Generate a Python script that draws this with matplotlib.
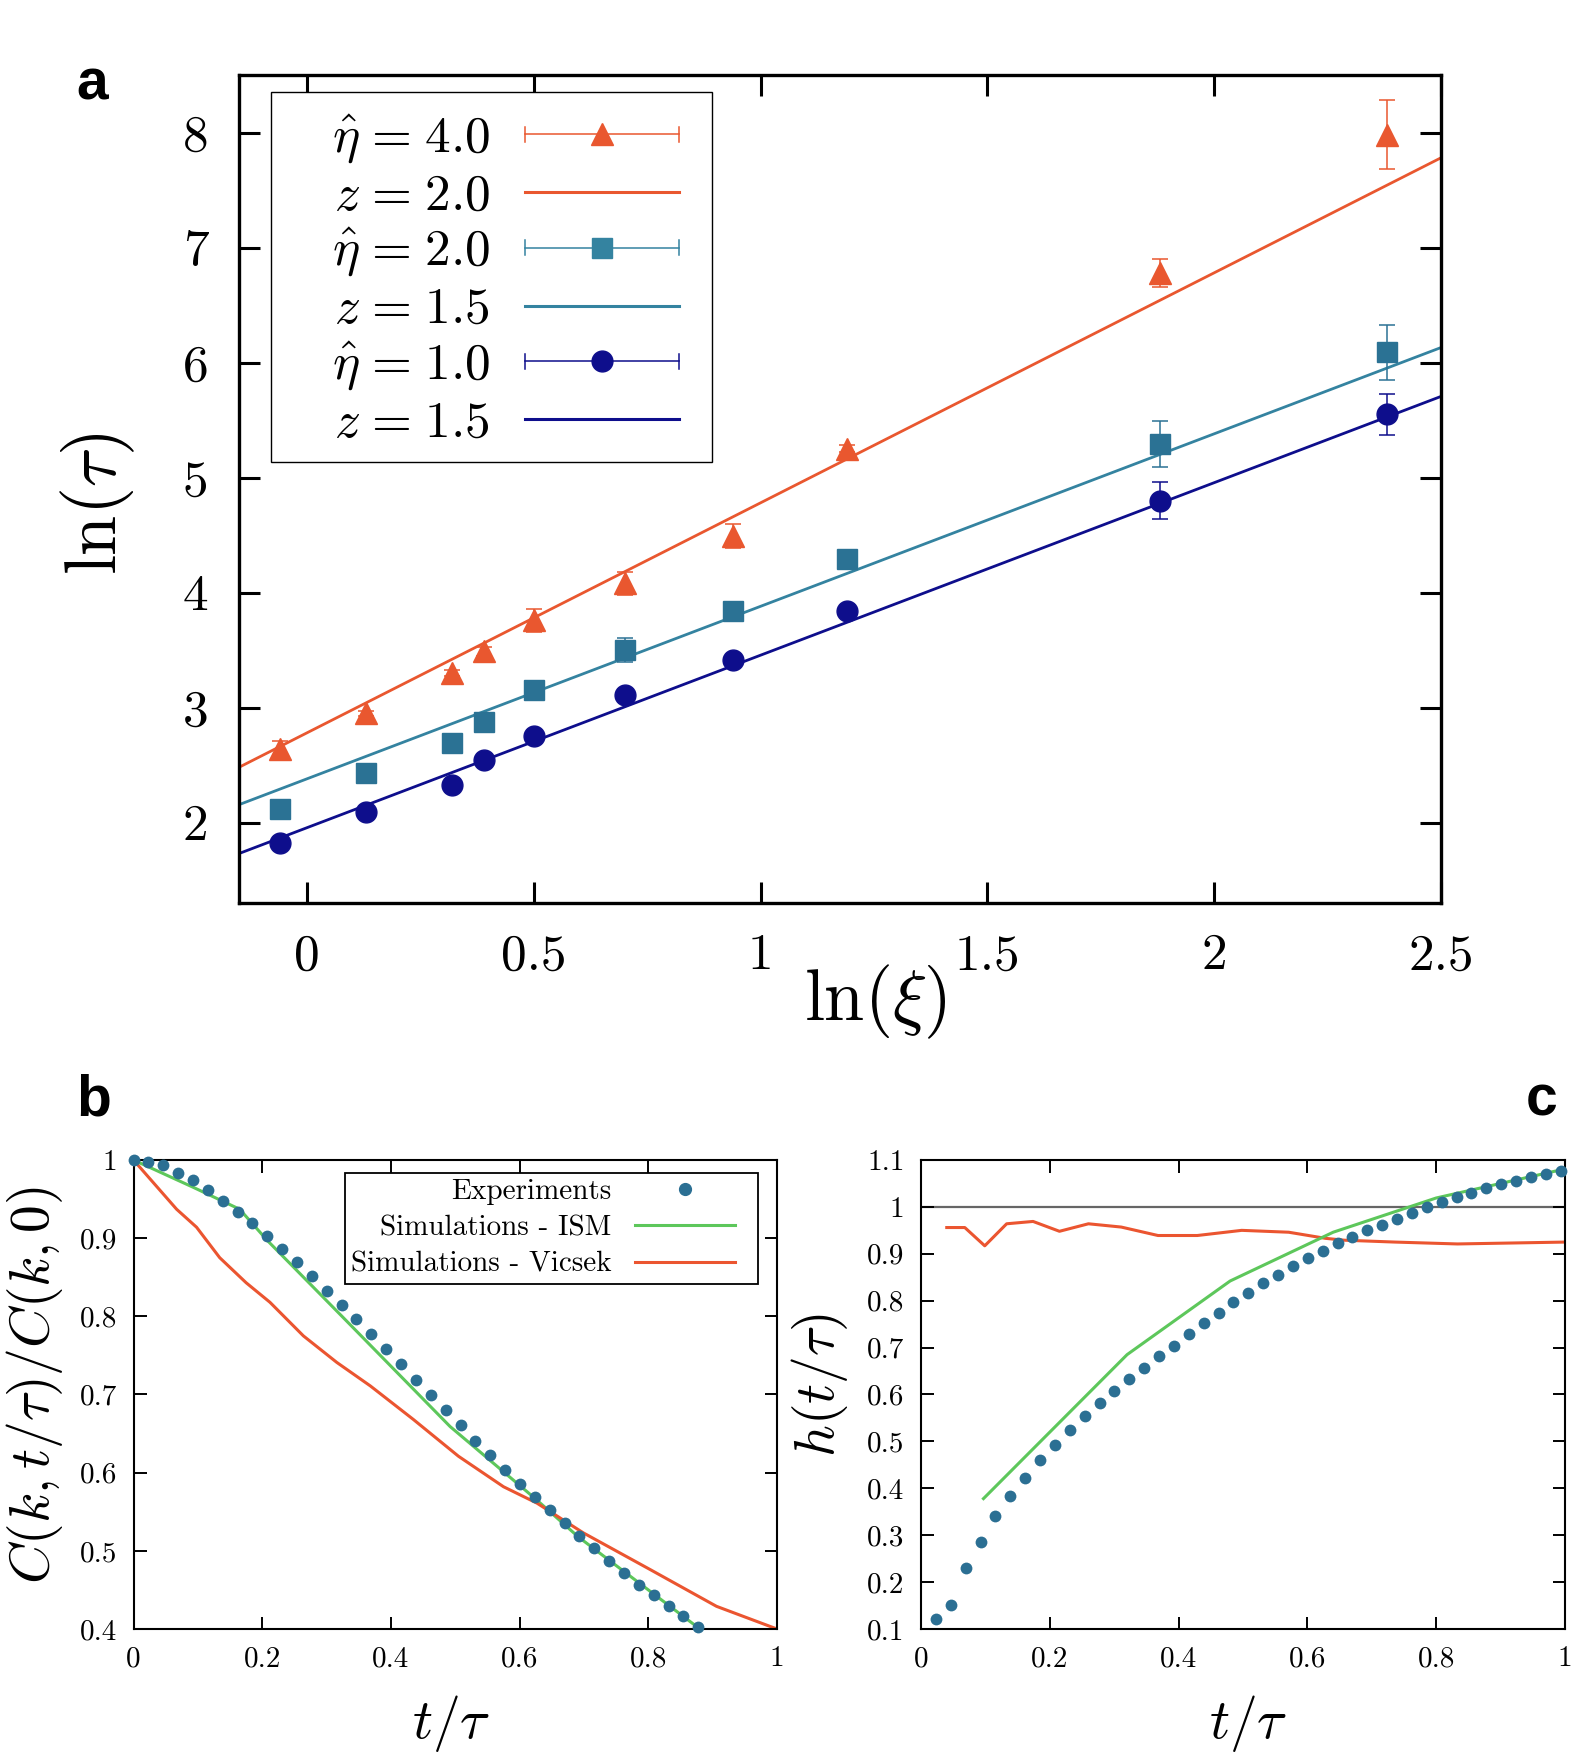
import matplotlib
matplotlib.use('Agg')
import matplotlib.pyplot as plt
from matplotlib.lines import Line2D
from matplotlib.legend_handler import HandlerBase
from matplotlib.ticker import MultipleLocator, FuncFormatter

plt.rcParams['mathtext.fontset'] = 'cm'
plt.rcParams['font.family'] = ['cmr10', 'DejaVu Sans']
plt.rcParams['axes.formatter.use_mathtext'] = True
plt.rcParams['axes.unicode_minus'] = False

# ---------------- Panel a data ----------------
ln_xi = [-0.06, 0.13, 0.32, 0.39, 0.50, 0.70, 0.94, 1.19, 1.88, 2.38]
tau_eta4 = [2.64, 2.95, 3.30, 3.49, 3.76, 4.08, 4.49, 5.25, 6.78, 7.98]
err_eta4 = [0.07, 0.02, 0.03, 0.04, 0.10, 0.10, 0.105, 0.03, 0.12, 0.30]
tau_eta2 = [2.12, 2.43, 2.69, 2.87, 3.15, 3.50, 3.84, 4.29, 5.29, 6.09]
err_eta2 = [0.03, 0.03, 0.03, 0.03, 0.04, 0.107, 0.05, 0.03, 0.20, 0.24]
tau_eta1 = [1.82, 2.09, 2.33, 2.54, 2.75, 3.11, 3.41, 3.84, 4.80, 5.55]
err_eta1 = [0.03, 0.03, 0.03, 0.03, 0.03, 0.04, 0.04, 0.03, 0.16, 0.18]
fit_z = [2.0, 1.5, 1.5]
fit_intercept = [2.78, 2.38, 1.955]
EQ = r'\hspace{0.1}=\hspace{0.1}'
legend_a_labels = [r'$\quad\hspace{0.05}\hat{\eta}' + EQ + r'4.0$',
                   r'$z' + EQ + r'2.0$',
                   r'$\hat{\eta}' + EQ + r'2.0$',
                   r'$z' + EQ + r'1.5$',
                   r'$\hat{\eta}' + EQ + r'1.0$',
                   r'$z' + EQ + r'1.5$']

# ---------------- Panel b data ----------------
t_b = [0.0, 0.0231, 0.0462, 0.0693, 0.0924, 0.1155, 0.1386, 0.1617, 0.1848, 0.2079,
       0.231, 0.2541, 0.2772, 0.3003, 0.3234, 0.3465, 0.3696, 0.3927, 0.4158, 0.4389,
       0.462, 0.4851, 0.5082, 0.5313, 0.5544, 0.5775, 0.6006, 0.6237, 0.6468, 0.6699,
       0.693, 0.7161, 0.7392, 0.7623, 0.7854, 0.8085, 0.8316, 0.8547, 0.8778]
C_exp = [1.000, 0.998, 0.993, 0.984, 0.974, 0.962, 0.948, 0.934, 0.919, 0.903,
         0.886, 0.869, 0.851, 0.833, 0.815, 0.796, 0.777, 0.758, 0.739, 0.719,
         0.699, 0.680, 0.661, 0.641, 0.623, 0.604, 0.586, 0.569, 0.552, 0.535,
         0.519, 0.503, 0.487, 0.472, 0.456, 0.443, 0.429, 0.416, 0.402]
t_ism_b = [0.0, 0.093, 0.165, 0.208, 0.324, 0.492, 0.624, 0.691, 0.877]
C_ism = [1.0, 0.965, 0.937, 0.897, 0.800, 0.659, 0.567, 0.518, 0.402]
t_vic_b = [0.0, 0.067, 0.098, 0.134, 0.175, 0.212, 0.264, 0.316, 0.368, 0.435,
           0.505, 0.575, 0.627, 0.699, 0.803, 0.906, 1.0]
C_vic = [1.0, 0.937, 0.914, 0.875, 0.843, 0.818, 0.775, 0.741, 0.711, 0.668,
         0.621, 0.582, 0.561, 0.523, 0.476, 0.429, 0.400]
legend_b_labels = ['Experiments', 'Simulations - ISM', 'Simulations - Vicsek']

# ---------------- Panel c data ----------------
t_c = [0.0231, 0.0462, 0.0693, 0.0924, 0.1155, 0.1386, 0.1617, 0.1848, 0.2079, 0.231,
       0.2541, 0.2772, 0.3003, 0.3234, 0.3465, 0.3696, 0.3927, 0.4158, 0.4389, 0.462,
       0.4851, 0.5082, 0.5313, 0.5544, 0.5775, 0.6006, 0.6237, 0.6468, 0.6699, 0.693,
       0.7161, 0.7392, 0.7623, 0.7854, 0.8085, 0.8316, 0.8547, 0.8778, 0.9009, 0.924,
       0.9471, 0.9702, 0.9933]
h_exp = [0.121, 0.151, 0.231, 0.285, 0.340, 0.384, 0.422, 0.461, 0.493, 0.524,
         0.555, 0.581, 0.608, 0.633, 0.657, 0.682, 0.704, 0.730, 0.753, 0.774,
         0.797, 0.816, 0.837, 0.854, 0.873, 0.890, 0.906, 0.922, 0.935, 0.951,
         0.962, 0.974, 0.986, 0.999, 1.010, 1.021, 1.030, 1.040, 1.049, 1.056,
         1.063, 1.071, 1.077]
t_ism_c = [0.097, 0.32, 0.48, 0.64, 0.80, 1.0]
h_ism = [0.378, 0.685, 0.842, 0.946, 1.019, 1.081]
t_vic_c = [0.040, 0.068, 0.099, 0.133, 0.174, 0.215, 0.260, 0.311, 0.368, 0.429,
           0.498, 0.571, 0.628, 0.657, 0.736, 0.833, 1.0]
h_vic = [0.956, 0.956, 0.917, 0.964, 0.969, 0.948, 0.964, 0.957, 0.939, 0.939,
         0.950, 0.946, 0.933, 0.929, 0.925, 0.921, 0.925]

# ---------------- styles ----------------
ORANGE = '#E9572F'
TEAL = '#2B7294'
TEAL_LINE = '#3483A0'
NAVY = '#0E0E8C'
DOT = '#2B6F93'
GREEN = '#5DC75B'
VIC = '#EB5530'
GRAY = '#666666'


class HandlerGnu(HandlerBase):
    """gnuplot-like key sample: horizontal line (optionally with end caps
    and a centred marker), drawn over a fraction of the handle box."""

    def __init__(self, frac=1.0, caps=False, line=True, **kw):
        super().__init__(**kw)
        self.frac = frac
        self.caps = caps
        self.line = line

    def create_artists(self, legend, orig_handle, xdescent, ydescent,
                       width, height, fontsize, trans):
        y = height / 2.0 - ydescent
        x0 = -xdescent
        x1 = x0 + width * self.frac
        c = orig_handle.get_color()
        lw = orig_handle.get_linewidth()
        arts = []
        if self.line:
            arts.append(Line2D([x0, x1], [y, y], color=c, lw=lw, transform=trans))
        if self.caps:
            cap = 0.145 * fontsize
            arts.append(Line2D([x0, x0], [y - cap, y + cap], color=c, lw=lw, transform=trans))
            arts.append(Line2D([x1, x1], [y - cap, y + cap], color=c, lw=lw, transform=trans))
        m = orig_handle.get_marker()
        if m not in (None, 'None', '', ' '):
            arts.append(Line2D([(x0 + x1) / 2.0], [y], marker=m, ls='none',
                               ms=orig_handle.get_markersize(), color=c,
                               mec=c, transform=trans))
        return arts


fmt = FuncFormatter(lambda v, p: '%g' % round(v, 6))

W, H = 1579, 1757
fig = plt.figure(figsize=(W / 100, H / 100), dpi=100)

# ================= Panel a =================
axa = fig.add_axes([239 / W, 1 - 903 / H, (1441 - 239) / W, (903 - 75) / H])
series = [
    (tau_eta4, err_eta4, '^', ORANGE, 16),
    (tau_eta2, err_eta2, 's', TEAL, 15),
    (tau_eta1, err_eta1, 'o', NAVY, 15),
]
line_cols = [ORANGE, TEAL_LINE, NAVY]
for z, b, col in zip(fit_z, fit_intercept, line_cols):
    axa.axline((0, b), slope=z, color=col, lw=2.0, zorder=2)
for y, e, mk, col, ms in series:
    axa.errorbar(ln_xi, y, yerr=e, fmt=mk, color=col, ms=ms, mec=col,
                 elinewidth=1.1, capsize=5.5, capthick=1.1, zorder=3)

axa.set_xlim(-0.15, 2.5)
axa.set_ylim(1.3, 8.5)
axa.xaxis.set_major_locator(MultipleLocator(0.5))
axa.yaxis.set_major_locator(MultipleLocator(1))
axa.xaxis.set_major_formatter(fmt)
axa.yaxis.set_major_formatter(fmt)
axa.tick_params(direction='in', top=True, right=True, length=15, width=2.2,
                labelsize=37, pad=22)
for s in axa.spines.values():
    s.set_linewidth(2.4)
axa.set_xlabel(r'$\ln(\xi)$', fontsize=52)
axa.set_ylabel(r'$\ln(\tau)$', fontsize=52)
axa.xaxis.set_label_coords(0.529, -0.072)
axa.yaxis.set_label_coords(-0.085, 0.482)

hA = [Line2D([], [], color=ORANGE, marker='^', ms=16, lw=1.1),
      Line2D([], [], color=ORANGE, lw=2.2),
      Line2D([], [], color=TEAL_LINE, marker='s', ms=15, lw=1.1),
      Line2D([], [], color=TEAL_LINE, lw=2.2),
      Line2D([], [], color=NAVY, marker='o', ms=15, lw=1.1),
      Line2D([], [], color=NAVY, lw=2.2)]
hmapA = {}
for i, h in enumerate(hA):
    hmapA[h] = HandlerGnu(frac=0.889, caps=(i % 2 == 0))
legA = axa.legend(hA, legend_a_labels, handler_map=hmapA, loc='upper left',
                  bbox_to_anchor=((270.5 - 239) / (1441 - 239), (903 - 92) / (903 - 75)),
                  borderaxespad=0, markerfirst=False, fontsize=37,
                  handlelength=3.36, handleheight=1.3, handletextpad=0.68,
                  labelspacing=-0.01, borderpad=0.28, fancybox=False,
                  edgecolor='black', framealpha=1)
legA.get_frame().set_linewidth(1.0)

# ================= Panel b =================
axb = fig.add_axes([133.5 / W, 1 - 1629 / H, (777 - 133.5) / W, (1629 - 1160) / H])
axb.plot(t_ism_b, C_ism, color=GREEN, lw=2.2, zorder=2)
axb.plot(t_vic_b, C_vic, color=VIC, lw=2.2, zorder=2)
axb.plot(t_b, C_exp, 'o', color=DOT, ms=8.5, mec='none', zorder=3, clip_on=False)
axb.set_xlim(0, 1)
axb.set_ylim(0.4, 1.0)
axb.xaxis.set_major_locator(MultipleLocator(0.2))
axb.yaxis.set_major_locator(MultipleLocator(0.1))
axb.xaxis.set_major_formatter(fmt)
axb.yaxis.set_major_formatter(fmt)
axb.tick_params(direction='in', top=True, right=True, length=9, width=1.4,
                labelsize=21, pad=12)
for s in axb.spines.values():
    s.set_linewidth(1.5)
axb.set_xlabel(r'$t/\tau$', fontsize=40)
axb.set_ylabel(r'$C(k,t/\tau)/C(k,0)$', fontsize=40)
axb.xaxis.set_label_coords(0.493, -0.136)
axb.yaxis.set_label_coords(-0.106, 0.52)

hB = [Line2D([], [], color=DOT, marker='o', ms=8.5, lw=0),
      Line2D([], [], color=GREEN, lw=2.2),
      Line2D([], [], color=VIC, lw=2.2)]
hmapB = {hB[0]: HandlerGnu(frac=0.855, line=False),
         hB[1]: HandlerGnu(frac=0.855),
         hB[2]: HandlerGnu(frac=0.855)}
legB = axb.legend(hB, legend_b_labels, handler_map=hmapB, loc='upper left',
                  bbox_to_anchor=((345 - 133.5) / (777 - 133.5), (1629 - 1173) / (1629 - 1160)),
                  borderaxespad=0, markerfirst=False, fontsize=21,
                  handlelength=4.0, handletextpad=0.82, labelspacing=0.34,
                  borderpad=0.2, fancybox=False, edgecolor='black', framealpha=1)
legB.get_frame().set_linewidth(1.3)

# ================= Panel c =================
axc = fig.add_axes([921 / W, 1 - 1629 / H, (1565 - 921) / W, (1629 - 1160) / H])
axc.axhline(1.0, color=GRAY, lw=1.6, zorder=1)
axc.plot(t_vic_c, h_vic, color=VIC, lw=2.2, zorder=2)
axc.plot(t_ism_c, h_ism, color=GREEN, lw=2.2, zorder=2)
axc.plot(t_c, h_exp, 'o', color=DOT, ms=8.5, mec='none', zorder=3, clip_on=False)
axc.set_xlim(0, 1)
axc.set_ylim(0.1, 1.1)
axc.xaxis.set_major_locator(MultipleLocator(0.2))
axc.yaxis.set_major_locator(MultipleLocator(0.1))
axc.xaxis.set_major_formatter(fmt)
axc.yaxis.set_major_formatter(fmt)
axc.tick_params(direction='in', top=True, right=True, length=9, width=1.4,
                labelsize=21, pad=12)
for s in axc.spines.values():
    s.set_linewidth(1.5)
axc.set_xlabel(r'$t/\tau$', fontsize=40)
axc.set_ylabel(r'$h(t/\tau)$', fontsize=40)
axc.xaxis.set_label_coords(0.508, -0.136)
axc.yaxis.set_label_coords(-0.110, 0.52)

# panel letters
lab = dict(fontsize=41, fontweight='bold', family=['Liberation Sans', 'DejaVu Sans'])
fig.text(76 / W, 1 - 99 / H, 'a', ha='left', va='baseline', **lab)
fig.text(76 / W, 1 - 1115 / H, 'b', ha='left', va='baseline', **lab)
fig.text(1558 / W, 1 - 1115 / H, 'c', ha='right', va='baseline', **lab)

fig.savefig('out.png', dpi=100)
